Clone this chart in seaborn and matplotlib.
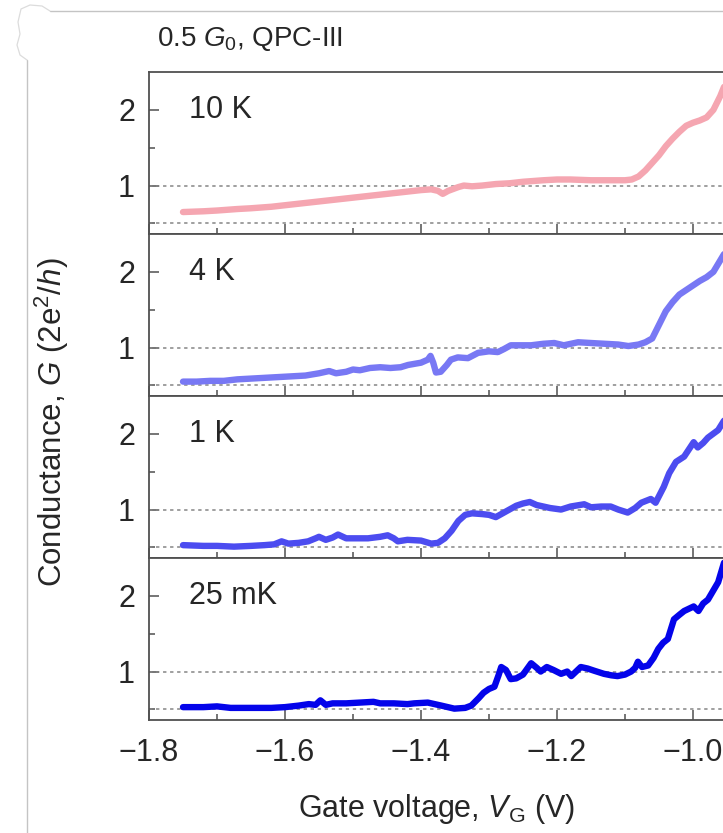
import matplotlib
matplotlib.use("Agg")
import matplotlib.pyplot as plt
import numpy as np
import pandas as pd
import seaborn as sns
from matplotlib.lines import Line2D
from matplotlib.ticker import MultipleLocator, FixedLocator

sns.set_style("ticks")
plt.rcParams["font.family"] = ["Liberation Sans", "DejaVu Sans"]
plt.rcParams["mathtext.fontset"] = "custom"
plt.rcParams["mathtext.rm"] = "Liberation Sans"
plt.rcParams["mathtext.it"] = "Liberation Sans:italic"
plt.rcParams["mathtext.bf"] = "Liberation Sans:bold"

# ---- gate-voltage sweeps (V) and conductance (2e^2/h) at four temperatures ----
v_10k = [-1.75, -1.72, -1.70, -1.67, -1.65, -1.62, -1.60, -1.58, -1.55, -1.53,
         -1.50, -1.47, -1.44, -1.42, -1.40, -1.385, -1.375, -1.368, -1.36, -1.345,
         -1.337, -1.325, -1.31, -1.29, -1.27, -1.25, -1.22, -1.20, -1.18, -1.15,
         -1.12, -1.10, -1.09, -1.08, -1.07, -1.06, -1.05, -1.04, -1.03, -1.02,
         -1.01, -1.00, -0.99, -0.98, -0.97, -0.96, -0.95]
g_10k = [0.65, 0.66, 0.67, 0.69, 0.70, 0.72, 0.74, 0.76, 0.79, 0.81,
         0.84, 0.87, 0.90, 0.92, 0.94, 0.95, 0.93, 0.89, 0.93, 0.98,
         1.00, 0.99, 1.00, 1.02, 1.03, 1.05, 1.07, 1.08, 1.08, 1.07,
         1.07, 1.07, 1.08, 1.12, 1.20, 1.30, 1.40, 1.52, 1.62, 1.71,
         1.79, 1.83, 1.86, 1.90, 2.00, 2.18, 2.40]

v_4k = [-1.75, -1.73, -1.71, -1.69, -1.67, -1.65, -1.63, -1.61, -1.59, -1.57,
        -1.55, -1.535, -1.525, -1.51, -1.50, -1.49, -1.475, -1.46, -1.445, -1.43,
        -1.419, -1.40, -1.39, -1.386, -1.382, -1.378, -1.371, -1.362, -1.356, -1.346,
        -1.331, -1.316, -1.30, -1.287, -1.278, -1.268, -1.25, -1.238, -1.22, -1.204,
        -1.19, -1.169, -1.15, -1.13, -1.11, -1.095, -1.08, -1.07, -1.06, -1.05,
        -1.04, -1.03, -1.02, -1.01, -1.00, -0.99, -0.98, -0.97, -0.96, -0.95]
g_4k = [0.55, 0.55, 0.56, 0.56, 0.58, 0.59, 0.60, 0.61, 0.62, 0.63,
        0.66, 0.69, 0.66, 0.68, 0.71, 0.70, 0.73, 0.74, 0.73, 0.74,
        0.77, 0.80, 0.84, 0.89, 0.80, 0.67, 0.68, 0.77, 0.84, 0.87,
        0.86, 0.93, 0.95, 0.94, 0.98, 1.03, 1.03, 1.03, 1.05, 1.06,
        1.03, 1.07, 1.06, 1.05, 1.04, 1.02, 1.04, 1.07, 1.12, 1.30,
        1.48, 1.60, 1.70, 1.76, 1.82, 1.88, 1.93, 2.00, 2.15, 2.30]

v_1k = [-1.75, -1.72, -1.70, -1.675, -1.65, -1.63, -1.616, -1.605, -1.595, -1.58,
        -1.566, -1.555, -1.55, -1.54, -1.53, -1.522, -1.51, -1.49, -1.478, -1.46,
        -1.449, -1.44, -1.434, -1.42, -1.40, -1.385, -1.375, -1.365, -1.355, -1.345,
        -1.335, -1.325, -1.31, -1.30, -1.29, -1.28, -1.27, -1.26, -1.25, -1.24,
        -1.23, -1.22, -1.21, -1.194, -1.18, -1.16, -1.15, -1.135, -1.121, -1.11,
        -1.096, -1.085, -1.076, -1.062, -1.055, -1.043, -1.035, -1.025, -1.013, -0.999,
        -0.993, -0.985, -0.978, -0.963, -0.954]
g_1k = [0.53, 0.52, 0.52, 0.51, 0.52, 0.53, 0.54, 0.58, 0.55, 0.56,
        0.58, 0.62, 0.64, 0.60, 0.63, 0.67, 0.62, 0.62, 0.62, 0.64,
        0.66, 0.62, 0.58, 0.60, 0.59, 0.55, 0.56, 0.62, 0.72, 0.85,
        0.93, 0.95, 0.94, 0.93, 0.90, 0.95, 1.00, 1.05, 1.08, 1.10,
        1.06, 1.04, 1.02, 1.00, 1.04, 1.07, 1.03, 1.04, 1.04, 1.00,
        0.96, 1.02, 1.09, 1.14, 1.09, 1.30, 1.48, 1.63, 1.70, 1.89,
        1.82, 1.88, 1.95, 2.05, 2.18]

v_25mk = [-1.75, -1.72, -1.70, -1.68, -1.65, -1.62, -1.60, -1.58, -1.565, -1.555,
          -1.548, -1.54, -1.53, -1.51, -1.49, -1.47, -1.46, -1.44, -1.42, -1.41,
          -1.39, -1.37, -1.351, -1.335, -1.326, -1.315, -1.308, -1.30, -1.292, -1.286,
          -1.282, -1.275, -1.268, -1.26, -1.25, -1.238, -1.23, -1.224, -1.215, -1.205,
          -1.194, -1.185, -1.179, -1.165, -1.155, -1.145, -1.131, -1.12, -1.111, -1.10,
          -1.091, -1.085, -1.081, -1.075, -1.066, -1.058, -1.051, -1.044, -1.037, -1.028,
          -1.02, -1.013, -0.999, -0.992, -0.985, -0.978, -0.963, -0.954]
g_25mk = [0.53, 0.53, 0.54, 0.52, 0.52, 0.52, 0.53, 0.55, 0.57, 0.56,
          0.62, 0.56, 0.58, 0.58, 0.59, 0.60, 0.58, 0.58, 0.57, 0.58,
          0.59, 0.55, 0.51, 0.52, 0.55, 0.65, 0.72, 0.77, 0.80, 0.95,
          1.06, 1.02, 0.90, 0.91, 0.96, 1.11, 1.05, 1.00, 1.06, 1.02,
          0.97, 1.00, 0.94, 1.06, 1.04, 1.01, 0.97, 0.95, 0.94, 0.96,
          1.00, 1.05, 1.13, 1.06, 1.08, 1.18, 1.30, 1.38, 1.43, 1.69,
          1.75, 1.80, 1.86, 1.80, 1.90, 1.95, 2.18, 2.45]

temperatures = ["10 K", "4 K", "1 K", "25 mK"]
colors = ["#f5a6b1", "#7878f4", "#4c4cf0", "#0404ea"]
sweeps = [(v_10k, g_10k), (v_4k, g_4k), (v_1k, g_1k), (v_25mk, g_25mk)]

frames = []
for name, (v, g) in zip(temperatures, sweeps):
    frames.append(pd.DataFrame({"V": v, "G": g, "T": name}))
df = pd.concat(frames, ignore_index=True)

W, H = 723, 833
fig = plt.figure(figsize=(W / 100, H / 100), dpi=100)

left_px = 149
x_lo, x_hi = -1.8, -0.93
width_px = (x_hi - x_lo) * 680
panel_tops = [72, 234, 396, 558]
panel_h = 162

spine_col = "#505050"
axes = []
for i, (name, col) in enumerate(zip(temperatures, colors)):
    top = panel_tops[i]
    ax = fig.add_axes([left_px / W, 1 - (top + panel_h) / H, width_px / W, panel_h / H])
    axes.append(ax)
    for yref in (1.0, 0.5):
        ax.axhline(yref, color="#858585", lw=1.1, ls=(0, (2.2, 2.4)), zorder=1)
    sns.lineplot(data=df[df["T"] == name], x="V", y="G", color=col, lw=4.6,
                 estimator=None, legend=False, ax=ax, zorder=3)
    ax.set_xlim(x_lo, x_hi)
    ax.set_ylim(0.36, 2.5)
    ax.set_xlabel("")
    ax.set_ylabel("")
    ax.xaxis.set_major_locator(MultipleLocator(0.2))
    ax.xaxis.set_minor_locator(MultipleLocator(0.1))
    ax.yaxis.set_major_locator(FixedLocator([1, 2]))
    ax.yaxis.set_minor_locator(FixedLocator([0.5, 1.5]))
    ax.tick_params(which="both", direction="in", top=False, right=False,
                   color=spine_col, width=1.1, labelsize=22)
    ax.tick_params(which="major", length=7.5)
    ax.tick_params(which="minor", length=4)
    ax.tick_params(axis="y", pad=10)
    ax.tick_params(axis="x", pad=13)
    for sp in ax.spines.values():
        sp.set_color(spine_col)
        sp.set_linewidth(1.3)
    if i < 3:
        ax.tick_params(axis="x", labelbottom=False)
    ax.text(-1.741, 2.0, name, fontsize=22, ha="left", va="center")

fig.text(157 / W, 1 - 46 / H, "0.5 $G_0$, QPC-III", fontsize=20, ha="left", va="baseline")
fig.text(52 / W, 1 - 422 / H, "Conductance, $G$ (2e$^2$/$h$)", fontsize=22.5,
         rotation=90, ha="center", va="center")
fig.text(437 / W, 1 - 809 / H, "Gate voltage, $V_{\\mathrm{G}}$ (V)", fontsize=22,
         ha="center", va="center")

# page border around the panel
border = "#c4c4c4"
fig.add_artist(Line2D([50 / W, 1.0], [1 - 11 / H, 1 - 11 / H], transform=fig.transFigure,
                      color=border, lw=1.0))
fig.add_artist(Line2D([27 / W, 27 / W], [1 - 60 / H, 0.0], transform=fig.transFigure,
                      color=border, lw=1.0))
corner_x = [50, 42, 30, 21, 18, 20, 17, 20, 27]
corner_y = [11, 6, 5, 9, 22, 34, 45, 55, 60]
fig.add_artist(Line2D([x / W for x in corner_x], [1 - y / H for y in corner_y],
                      transform=fig.transFigure, color="#dcdcdc", lw=0.9))

fig.savefig("out.png", dpi=100)
